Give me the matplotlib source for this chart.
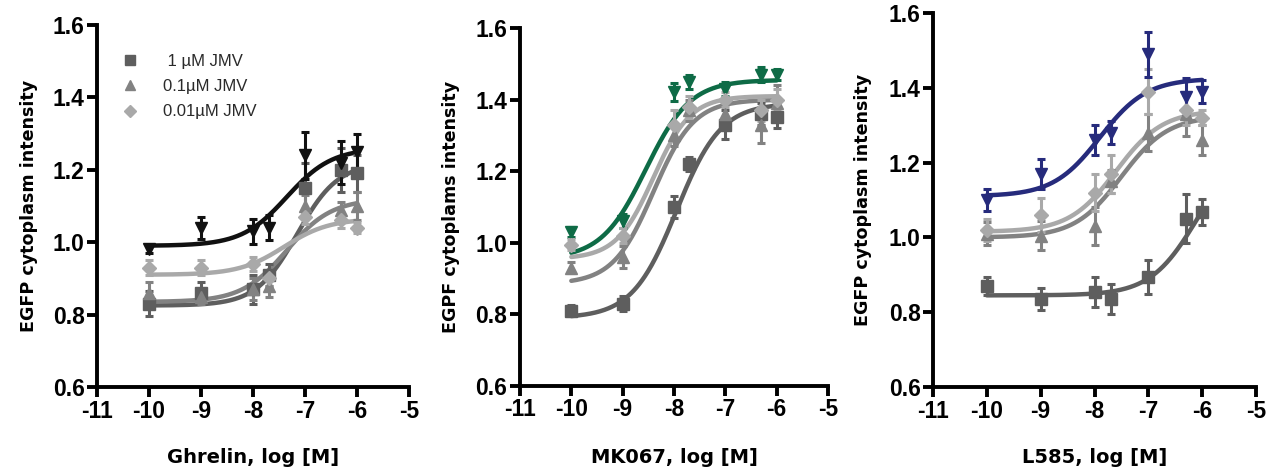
import numpy as np
import matplotlib
matplotlib.use("Agg")
import matplotlib.pyplot as plt
from matplotlib.lines import Line2D

# ---------------- data ----------------
log_conc = [-10, -9, -8, -7.7, -7, -6.3, -6]
x_ticks = [-11, -10, -9, -8, -7, -6, -5]
y_ticks = [0.6, 0.8, 1.0, 1.2, 1.4, 1.6]

# Panel 1: Ghrelin
p1_ctrl = [0.98, 1.04, 1.03, 1.04, 1.24, 1.22, 1.25]
p1_ctrl_err = [0.01, 0.03, 0.035, 0.035, 0.065, 0.06, 0.05]
p1_1uM = [0.83, 0.86, 0.87, 0.91, 1.15, 1.20, 1.19]
p1_1uM_err = [0.035, 0.03, 0.04, 0.03, 0.07, 0.06, 0.05]
p1_01uM = [0.86, 0.85, 0.87, 0.88, 1.10, 1.09, 1.10]
p1_01uM_err = [0.03, 0.02, 0.03, 0.03, 0.03, 0.02, 0.04]
p1_001uM = [0.93, 0.93, 0.94, 0.90, 1.07, 1.06, 1.04]
p1_001uM_err = [0.02, 0.02, 0.02, 0.02, 0.02, 0.02, 0.015]
# fit parameters: bottom, top, logEC50, hill
p1_ctrl_fit = [0.99, 1.26, -7.35, 1.0]
p1_1uM_fit = [0.825, 1.22, -7.15, 1.1]
p1_01uM_fit = [0.835, 1.12, -7.35, 1.0]
p1_001uM_fit = [0.91, 1.065, -7.4, 1.0]

# Panel 2: MK067
p2_ctrl = [1.03, 1.06, 1.42, 1.45, 1.43, 1.47, 1.47]
p2_ctrl_err = [0.015, 0.02, 0.025, 0.02, 0.02, 0.02, 0.015]
p2_1uM = [0.81, 0.83, 1.10, 1.22, 1.33, 1.36, 1.35]
p2_1uM_err = [0.015, 0.02, 0.03, 0.02, 0.04, 0.03, 0.03]
p2_01uM = [0.93, 0.96, 1.30, 1.37, 1.36, 1.33, 1.39]
p2_01uM_err = [0.015, 0.03, 0.03, 0.03, 0.03, 0.05, 0.05]
p2_001uM = [0.995, 1.02, 1.33, 1.38, 1.40, 1.37, 1.40]
p2_001uM_err = [0.015, 0.02, 0.04, 0.03, 0.02, 0.03, 0.03]
p2_ctrl_fit = [0.955, 1.455, -8.55, 1.0]
p2_1uM_fit = [0.79, 1.39, -7.95, 1.0]
p2_01uM_fit = [0.885, 1.40, -8.4, 1.1]
p2_001uM_fit = [0.955, 1.41, -8.4, 1.2]

# Panel 3: L585
p3_ctrl = [1.10, 1.17, 1.26, 1.28, 1.49, 1.375, 1.39]
p3_ctrl_err = [0.03, 0.04, 0.04, 0.03, 0.06, 0.05, 0.03]
p3_1uM = [0.87, 0.836, 0.855, 0.836, 0.895, 1.05, 1.067]
p3_1uM_err = [0.025, 0.03, 0.04, 0.04, 0.045, 0.065, 0.035]
p3_01uM = [1.01, 1.005, 1.03, 1.15, 1.28, 1.33, 1.26]
p3_01uM_err = [0.03, 0.04, 0.05, 0.03, 0.05, 0.06, 0.04]
p3_001uM = [1.02, 1.06, 1.12, 1.17, 1.39, 1.34, 1.32]
p3_001uM_err = [0.03, 0.045, 0.05, 0.05, 0.06, 0.04, 0.02]
p3_ctrl_fit = [1.11, 1.425, -7.9, 1.0]
p3_1uM_fit = [0.845, 1.25, -6.1, 1.0]
p3_01uM_fit = [1.0, 1.325, -7.5, 1.0]
p3_001uM_fit = [1.015, 1.34, -7.6, 1.0]

legend_labels = [" 1 \u00b5M JMV", "0.1\u00b5M JMV", "0.01\u00b5M JMV"]
x_labels = ["Ghrelin, log [M]", "MK067, log [M]", "L585, log [M]"]
y_labels = ["EGFP cytoplasm intensity", "EGPF cytoplams intensity", "EGFP cytoplasm intensity"]

# ---------------- styling ----------------
C_SQ = "#5e5e5e"
C_TR = "#828282"
C_DI = "#a9a9a9"
ctrl_colors = ["#111111", "#0e6b46", "#262b7c"]

plt.rcParams['font.family'] = ['Liberation Sans', 'DejaVu Sans']

W, H = 1284, 476
fig = plt.figure(figsize=(W / 100, H / 100), dpi=100)

# axes boxes in pixels: left, right, top, bottom
boxes = [(97, 409, 25, 387), (520, 828, 28, 386), (933, 1256, 13, 387)]
ylab_x = [38, 460, 872]
xlab_y = 448

panels = [
    [(p1_1uM, p1_1uM_err, p1_1uM_fit, C_SQ, 's'),
     (p1_01uM, p1_01uM_err, p1_01uM_fit, C_TR, '^'),
     (p1_001uM, p1_001uM_err, p1_001uM_fit, C_DI, 'D'),
     (p1_ctrl, p1_ctrl_err, p1_ctrl_fit, ctrl_colors[0], 'v')],
    [(p2_1uM, p2_1uM_err, p2_1uM_fit, C_SQ, 's'),
     (p2_01uM, p2_01uM_err, p2_01uM_fit, C_TR, '^'),
     (p2_ctrl, p2_ctrl_err, p2_ctrl_fit, ctrl_colors[1], 'v'),
     (p2_001uM, p2_001uM_err, p2_001uM_fit, C_DI, 'D')],
    [(p3_1uM, p3_1uM_err, p3_1uM_fit, C_SQ, 's'),
     (p3_01uM, p3_01uM_err, p3_01uM_fit, C_TR, '^'),
     (p3_001uM, p3_001uM_err, p3_001uM_fit, C_DI, 'D'),
     (p3_ctrl, p3_ctrl_err, p3_ctrl_fit, ctrl_colors[2], 'v')],
]


def sigmoid(x, p):
    b, t, ec, h = p
    return b + (t - b) / (1 + 10 ** ((ec - x) * h))


xs = np.linspace(min(log_conc), max(log_conc), 300)

for i, (l, r, t, b) in enumerate(boxes):
    ax = fig.add_axes([l / W, (H - b) / H, (r - l) / W, (b - t) / H])
    for (y, e, fit, c, m) in panels[i]:
        ms = 8 if m != 'D' else 7
        ax.errorbar(log_conc, y, yerr=e, fmt=m, color=c, ms=ms, mec=c,
                    elinewidth=2.2, capsize=3, capthick=2.2, zorder=3)
        ax.plot(xs, sigmoid(xs, fit), color=c, lw=3.2, zorder=2,
                solid_capstyle='round')
    ax.set_xlim(-11, -5)
    ax.set_ylim(0.6, 1.6)
    ax.set_xticks(x_ticks)
    ax.set_yticks(y_ticks)
    ax.set_xticklabels([str(v) for v in x_ticks])
    ax.set_yticklabels([f"{v:.1f}" for v in y_ticks])
    for s in ['top', 'right']:
        ax.spines[s].set_visible(False)
    for s in ['left', 'bottom']:
        ax.spines[s].set_linewidth(2.8)
    ax.tick_params(axis='both', width=2.8, length=7, labelsize=16.5, pad=2)
    for lab in ax.get_xticklabels() + ax.get_yticklabels():
        lab.set_fontweight('bold')
    ax.set_xlabel(x_labels[i], fontsize=14, fontweight='bold',
                  family=['DejaVu Sans'])
    ax.set_ylabel(y_labels[i], fontsize=12.6, fontweight='bold',
                  family=['DejaVu Sans'])
    ax.xaxis.set_label_coords(0.5, -(xlab_y - b) / (b - t))
    ax.yaxis.set_label_coords((ylab_x[i] - l) / (r - l), 0.5)
    ax.patch.set_visible(False)

    if i == 0:
        handles = [Line2D([], [], ls='none', marker='s', color=C_SQ, ms=7),
                   Line2D([], [], ls='none', marker='^', color=C_TR, ms=7),
                   Line2D([], [], ls='none', marker='D', color=C_DI, ms=6)]
        ax.legend(handles, legend_labels, loc='upper left',
                  bbox_to_anchor=(0.005, 0.962), frameon=False, fontsize=12,
                  handletextpad=0.96, labelspacing=0.62, labelcolor='#2a2a2a')

fig.savefig("out.png", dpi=100)
